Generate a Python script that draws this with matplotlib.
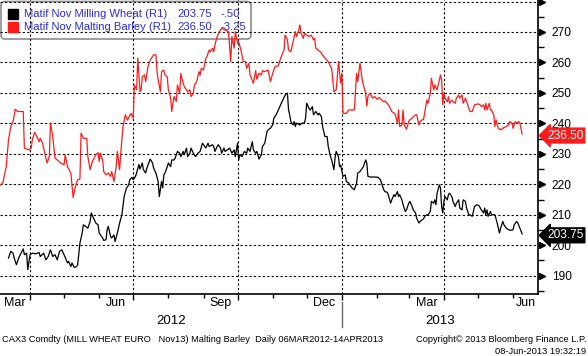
import matplotlib
matplotlib.use("Agg")
import matplotlib.pyplot as plt
import matplotlib.dates as mdates
import matplotlib.transforms as mtransforms
from matplotlib.patches import FancyBboxPatch, Rectangle
import pandas as pd

plt.rcParams['font.family'] = ['Liberation Sans', 'DejaVu Sans']

# ---------------- data ----------------
START = pd.Timestamp('2012-03-06')
END = pd.Timestamp('2013-06-23')

# Malting Barley (red): days since START, price
barley_days = [
    0, 2, 5, 7, 9, 11, 13, 15, 20, 21,
    25, 27, 28, 30, 32, 34, 35, 37, 38, 41,
    43, 44, 46, 48, 50, 53, 56, 57, 59, 62,
    64, 66, 68, 70, 71, 73, 76, 77, 79, 81,
    84, 86, 87, 88, 90, 91, 93, 95, 97, 98,
    100, 102, 103, 105, 106, 108, 110, 112, 115, 117,
    118, 120, 121, 123, 124, 125, 127, 128, 130, 132,
    135, 137, 138, 139, 141, 142, 144, 145, 147, 148,
    150, 151, 152, 153, 155, 156, 158, 159, 161, 162,
    164, 165, 167, 168, 170, 171, 173, 175, 176, 177,
    179, 181, 182, 184, 185, 187, 188, 189, 191, 193,
    195, 201, 203, 204, 206, 207, 209, 210, 212, 214,
    216, 217, 219, 220, 223, 225, 226, 228, 230, 231,
    233, 236, 238, 240, 242, 245, 247, 250, 251, 253,
    254, 256, 257, 258, 260, 261, 263, 264, 265, 267,
    268, 270, 272, 274, 276, 277, 278, 282, 285, 289,
    291, 292, 294, 296, 297, 298, 300, 301, 302, 305,
    307, 312, 314, 315, 317, 319, 320, 322, 323, 324,
    326, 328, 330, 332, 334, 336, 338, 339, 341, 343,
    345, 348, 350, 351, 352, 354, 355, 356, 358, 360,
    361, 363, 364, 366, 367, 369, 370, 372, 373, 375,
    376, 377, 379, 380, 382, 383, 385, 386, 388, 389,
    390, 391, 392, 394, 395, 396, 398, 399, 401, 402,
    404, 405, 407, 408, 410, 412, 414, 416, 418, 421,
    423, 424, 426, 427, 428, 429, 431, 432, 433, 435,
    436, 437, 438, 439, 441, 443, 446, 448, 449, 451,
    452, 454, 455, 457, 458, 460,
]
barley_vals = [
    219.8, 220.4, 225.8, 234.6, 239.0, 240.6, 244.6, 243.9, 243.9, 231.9,
    231.3, 231.9, 234.6, 237.1, 235.7, 234.0, 235.1, 233.5, 231.9, 227.0,
    229.1, 240.1, 235.7, 228.6, 228.0, 227.0, 226.4, 229.7, 225.8, 223.7,
    215.7, 219.3, 221.5, 221.7, 236.8, 235.1, 235.1, 229.1, 224.8, 227.5,
    229.7, 230.4, 227.5, 230.2, 228.0, 224.2, 223.1, 223.7, 222.6, 224.2,
    220.9, 225.8, 230.8, 224.8, 230.2, 239.0, 242.8, 241.1, 243.3, 241.7,
    252.6, 251.0, 261.4, 250.4, 251.0, 255.3, 255.9, 253.7, 258.6, 260.8,
    262.5, 262.5, 257.0, 254.3, 250.4, 257.0, 257.5, 255.9, 255.3, 251.0,
    248.3, 243.9, 246.6, 248.8, 247.2, 252.6, 249.9, 256.4, 253.2, 252.1,
    251.0, 250.4, 251.0, 248.8, 249.9, 252.6, 253.7, 257.0, 255.9, 258.1,
    257.5, 261.4, 261.9, 264.1, 263.5, 264.7, 263.5, 265.7, 268.5, 270.1,
    271.2, 270.1, 260.3, 268.5, 264.7, 270.1, 266.3, 266.8, 264.1, 260.3,
    260.3, 258.1, 259.7, 256.0, 253.2, 257.3, 254.5, 256.5, 255.9, 257.3,
    257.0, 257.5, 253.7, 256.4, 258.6, 258.9, 261.4, 264.1, 269.0, 267.4,
    264.1, 263.5, 265.2, 266.8, 270.1, 268.5, 270.7, 272.3, 269.6, 267.9,
    269.6, 269.0, 268.5, 269.0, 267.4, 267.9, 264.7, 263.5, 261.9, 260.3,
    258.6, 258.1, 250.4, 251.0, 255.3, 260.3, 253.2, 256.4, 243.3, 243.3,
    244.4, 244.4, 256.4, 253.7, 259.7, 254.3, 252.6, 249.9, 245.7, 248.8,
    249.9, 248.3, 248.8, 247.9, 248.5, 247.7, 247.1, 247.4, 246.6, 245.5,
    243.9, 243.1, 240.1, 244.4, 239.0, 239.5, 244.4, 239.5, 238.1, 240.6,
    241.2, 241.7, 242.2, 242.8, 242.8, 239.5, 240.6, 241.2, 241.2, 245.5,
    247.7, 246.6, 249.9, 254.8, 251.0, 252.6, 251.0, 252.6, 255.9, 254.3,
    246.1, 249.9, 248.3, 247.1, 248.8, 246.6, 247.7, 247.1, 246.6, 248.3,
    249.3, 248.3, 249.3, 246.6, 248.3, 246.1, 243.9, 243.9, 246.1, 246.4,
    246.1, 245.5, 246.1, 244.4, 246.6, 244.4, 246.6, 244.4, 244.4, 242.8,
    239.0, 241.2, 239.5, 238.4, 237.9, 238.4, 239.0, 239.5, 240.6, 240.1,
    238.4, 240.6, 240.1, 240.6, 240.1, 236.5,
]

# Milling Wheat (black): days since START, price
wheat_days = [
    7, 9, 11, 12, 14, 16, 18, 20, 21, 23,
    24, 26, 28, 31, 34, 35, 38, 40, 42, 44,
    46, 48, 50, 52, 54, 56, 59, 60, 62, 63,
    65, 67, 68, 70, 72, 73, 75, 77, 79, 80,
    82, 84, 86, 87, 90, 91, 93, 94, 95, 96,
    97, 98, 100, 101, 103, 105, 107, 109, 111, 113,
    114, 116, 117, 119, 120, 122, 123, 125, 126, 128,
    129, 132, 134, 135, 137, 139, 140, 142, 143, 144,
    145, 147, 148, 150, 151, 153, 154, 156, 158, 159,
    161, 162, 164, 165, 167, 168, 170, 172, 174, 176,
    178, 179, 181, 183, 184, 187, 188, 189, 191, 192,
    194, 195, 197, 198, 200, 202, 204, 206, 207, 209,
    210, 211, 213, 215, 217, 218, 220, 221, 222, 223,
    225, 226, 228, 230, 231, 233, 235, 236, 238, 240,
    241, 243, 245, 247, 249, 251, 253, 254, 255, 256,
    258, 259, 260, 261, 264, 266, 268, 269, 270, 272,
    273, 275, 276, 278, 280, 281, 283, 284, 286, 288,
    289, 291, 292, 294, 295, 296, 298, 299, 300, 302,
    304, 305, 307, 308, 310, 312, 314, 315, 317, 320,
    322, 323, 324, 326, 330, 333, 335, 336, 338, 339,
    341, 342, 344, 345, 347, 348, 350, 351, 352, 354,
    355, 357, 358, 360, 361, 363, 364, 366, 367, 369,
    370, 372, 373, 374, 376, 377, 379, 380, 382, 383,
    384, 385, 387, 388, 389, 390, 391, 392, 394, 395,
    396, 398, 399, 401, 402, 404, 405, 407, 408, 410,
    411, 413, 414, 416, 417, 418, 420, 422, 424, 426,
    427, 428, 429, 430, 432, 433, 435, 436, 438, 439,
    440, 441, 443, 444, 446, 448, 450, 452, 453, 455,
    456, 458, 460,
]
wheat_vals = [
    195.8, 198.0, 197.4, 195.8, 193.6, 195.8, 197.4, 198.8, 196.9, 197.4,
    192.0, 196.9, 197.4, 197.2, 197.6, 196.3, 197.4, 195.2, 196.3, 198.5,
    196.3, 196.9, 195.2, 198.0, 198.5, 196.9, 194.2, 194.7, 193.0, 194.2,
    192.7, 193.0, 193.6, 200.7, 204.0, 206.7, 206.2, 205.6, 207.8, 210.6,
    208.9, 207.3, 206.7, 204.0, 202.4, 201.6, 201.8, 205.1, 206.2, 204.5,
    202.9, 202.4, 203.4, 201.2, 204.0, 207.3, 210.0, 216.0, 218.7, 219.8,
    221.6, 222.3, 221.5, 222.6, 223.7, 226.5, 225.0, 227.0, 224.8, 223.7,
    225.3, 228.3, 227.0, 225.3, 223.7, 220.9, 216.0, 220.9, 218.8, 223.1,
    223.7, 225.8, 227.0, 225.8, 228.0, 228.0, 228.6, 230.8, 230.2, 229.1,
    230.8, 229.7, 231.9, 229.1, 230.2, 231.9, 230.2, 229.1, 230.2, 230.8,
    233.5, 233.0, 231.9, 233.5, 232.4, 233.0, 232.4, 230.8, 232.4, 233.0,
    231.9, 230.2, 231.9, 230.8, 231.3, 231.9, 230.2, 231.3, 229.1, 233.5,
    228.0, 229.7, 229.1, 230.8, 230.2, 231.9, 230.8, 232.4, 234.0, 231.3,
    230.2, 230.8, 228.3, 229.7, 232.4, 233.5, 237.3, 237.9, 238.4, 239.5,
    241.7, 242.8, 244.4, 246.1, 247.7, 249.3, 249.9, 244.4, 242.8, 240.6,
    239.5, 240.6, 239.0, 240.1, 239.5, 240.1, 240.1, 241.7, 246.6, 245.0,
    244.4, 245.5, 242.8, 243.9, 242.8, 243.3, 242.2, 239.0, 235.7, 235.7,
    232.4, 229.1, 228.0, 224.8, 228.6, 230.8, 229.1, 225.8, 226.3, 222.6,
    223.1, 220.9, 220.4, 219.8, 218.8, 218.2, 220.4, 223.7, 224.2, 225.8,
    228.0, 227.0, 222.6, 222.4, 222.4, 222.3, 221.5, 220.4, 218.2, 217.6,
    217.4, 216.5, 213.8, 214.9, 216.6, 216.0, 217.6, 216.0, 216.6, 214.9,
    213.3, 211.1, 211.6, 213.8, 214.4, 212.7, 211.6, 210.6, 208.9, 207.3,
    207.8, 208.4, 208.6, 209.5, 210.0, 210.0, 211.1, 214.4, 213.8, 214.9,
    213.3, 217.1, 219.8, 218.8, 212.7, 210.6, 214.4, 216.0, 214.9, 216.6,
    217.1, 216.0, 214.4, 212.7, 213.8, 214.9, 212.2, 211.6, 214.9, 214.4,
    212.2, 210.0, 210.0, 209.5, 211.1, 212.7, 213.3, 213.0, 211.6, 210.6,
    212.2, 210.0, 211.6, 209.5, 211.1, 210.0, 210.0, 210.0, 207.3, 205.6,
    204.0, 205.6, 207.8, 206.7, 205.6, 205.1, 204.9, 205.1, 206.7, 207.8,
    207.5, 205.6, 203.75,
]

assert len(barley_days) == len(barley_vals), (len(barley_days), len(barley_vals))
assert len(wheat_days) == len(wheat_vals), (len(wheat_days), len(wheat_vals))

series_names = ["Matif Nov Milling Wheat (R1)", "Matif Nov Malting Barley (R1)"]
last_values = ["203.75", "236.50"]
changes = ["-.50", "-3.25"]
last_prices = [203.75, 236.50]
series_colors = ["black", "#ff1a1a"]

month_labels = ["Mar", "Jun", "Sep", "Dec", "Mar", "Jun"]
month_starts = ["2012-03-01", "2012-06-01", "2012-09-01", "2012-12-01", "2013-03-01", "2013-06-01"]
year_labels = ["2012", "2013"]
yticks_major = list(range(190, 281, 10))
yticks_minor = list(range(185, 281, 10))

footer_left = "CAX3 Comdty (MILL WHEAT EURO   Nov13) Malting Barley  Daily 06MAR2012-14APR2013"
footer_right1 = "Copyright\u00a9 2013 Bloomberg Finance L.P."
footer_right2 = "08-Jun-2013 19:32:19"

# ---------------- figure ----------------
W, H = 588, 356
fig = plt.figure(figsize=(W / 100, H / 100), dpi=100)
fig.patch.set_facecolor("white")
ax = fig.add_axes([0, 62 / H, 538 / W, 294 / H])

barley_dates = [START + pd.Timedelta(days=d) for d in barley_days]
wheat_dates = [START + pd.Timedelta(days=d) for d in wheat_days]

ax.plot(wheat_dates, wheat_vals, color=series_colors[0], lw=0.9, zorder=4)
ax.plot(barley_dates, barley_vals, color=series_colors[1], lw=0.9, zorder=4)

ax.set_xlim(START - pd.Timedelta(hours=12), END)
ax.set_ylim(184.0, 280.5)

for s in ["left", "top"]:
    ax.spines[s].set_visible(False)
ax.spines["right"].set_color("black")
ax.spines["bottom"].set_color("black")
ax.spines["right"].set_linewidth(1.2)
ax.spines["bottom"].set_linewidth(1.2)

# y axis on the right
ax.yaxis.tick_right()
ax.set_yticks(yticks_major)
ax.set_yticklabels([str(v) if v < 280 else "" for v in yticks_major])
ax.set_yticks(yticks_minor, minor=True)
ax.tick_params(axis="y", which="major", length=0, pad=10, labelsize=8.6, labelcolor="black")
ax.tick_params(axis="y", which="minor", length=4, width=1, direction="out", color="black")
for lbl in ax.get_yticklabels():
    lbl.set_va("center_baseline")

# triangle markers at the major y ticks
tri_trans = mtransforms.offset_copy(ax.get_yaxis_transform(), fig=fig, x=4, y=0, units="dots")
ax.plot([1.0] * len(yticks_major), yticks_major, ls="none", marker=">", ms=5,
        color="black", transform=tri_trans, clip_on=False, zorder=5)

# x axis: quarter gridlines, monthly ticks
ax.xaxis.set_major_locator(mdates.MonthLocator(bymonth=[1, 4, 7, 10]))
ax.xaxis.set_minor_locator(mdates.MonthLocator())
ax.xaxis.set_major_formatter(plt.NullFormatter())
ax.tick_params(axis="x", which="major", length=4, width=1, direction="out")
ax.tick_params(axis="x", which="minor", length=3, width=1, direction="out")

ax.grid(True, which="major", axis="both", color="black", linestyle=(0, (2, 2)), lw=0.8)

# month labels centred on the visible part of each month
bt = mtransforms.blended_transform_factory(ax.transData, fig.transFigure)
xmin_num, xmax_num = ax.get_xlim()
for lab, ms in zip(month_labels, month_starts):
    a = mdates.date2num(pd.Timestamp(ms))
    b = mdates.date2num(pd.Timestamp(ms) + pd.offsets.MonthBegin(1))
    a, b = max(a, xmin_num), min(b, xmax_num)
    ax.text((a + b) / 2, 1 - 303 / H, lab, transform=bt, ha="center", va="center",
            fontsize=9, clip_on=False)

jan13 = mdates.date2num(pd.Timestamp("2013-01-01"))
ax.text((xmin_num + jan13) / 2, 1 - 321 / H, year_labels[0], transform=bt,
        ha="center", va="center", fontsize=9.5, clip_on=False)
ax.text((jan13 + xmax_num) / 2, 1 - 321 / H, year_labels[1], transform=bt,
        ha="center", va="center", fontsize=9.5, clip_on=False)
ax.plot([jan13, jan13], [1 - 302 / H, 1 - 327 / H], color="#666666", lw=1,
        transform=bt, clip_on=False)

# footer
fig.text(2 / W, 1 - 340 / H, footer_left, fontsize=6.7, ha="left", va="center")
fig.text(586 / W, 1 - 340 / H, footer_right1, fontsize=6.7, ha="right", va="center")
fig.text(586 / W, 1 - 351 / H, footer_right2, fontsize=6.7, ha="right", va="center")

# legend box (gridlines and lines drawn over it)
ident = mtransforms.IdentityTransform()
box = FancyBboxPatch((1, H - 39), 250, 37.5, boxstyle="round,pad=0,rounding_size=4",
                     transform=ident, fc="none", ec="#8c8c8c", lw=1.2, zorder=1.5)
ax.add_patch(box)
legend_blue = "#2b2bdc"
row_y = [14, 27]
for i in range(2):
    ax.add_patch(Rectangle((8, H - row_y[i] - 5), 10, 10, transform=ident,
                           fc=series_colors[i], ec=series_colors[i], zorder=1.6))
    ax.text(24 / W, 1 - row_y[i] / H, series_names[i], transform=fig.transFigure,
            fontsize=8.1, color=legend_blue, ha="left", va="center", zorder=1.6)
    ax.text(177 / W, 1 - row_y[i] / H, last_values[i], transform=fig.transFigure,
            fontsize=8.1, color=legend_blue, ha="left", va="center", zorder=1.6)
    ax.text(220 / W, 1 - row_y[i] / H, changes[i], transform=fig.transFigure,
            fontsize=8.1, color=legend_blue, ha="left", va="center", zorder=1.6)

# value tags on the right axis
tag_trans = mtransforms.offset_copy(ax.get_yaxis_transform(), fig=fig, x=9, y=0, units="dots")
for val, txt, col in zip(last_prices[::-1], last_values[::-1], series_colors[::-1]):
    ax.text(1.0, val, txt, transform=tag_trans, ha="left", va="center_baseline",
            fontsize=8.6, color="white", clip_on=False, zorder=6,
            bbox=dict(boxstyle="larrow,pad=0.12", fc=col, ec=col))

fig.savefig("out.png", dpi=100, facecolor="white")
